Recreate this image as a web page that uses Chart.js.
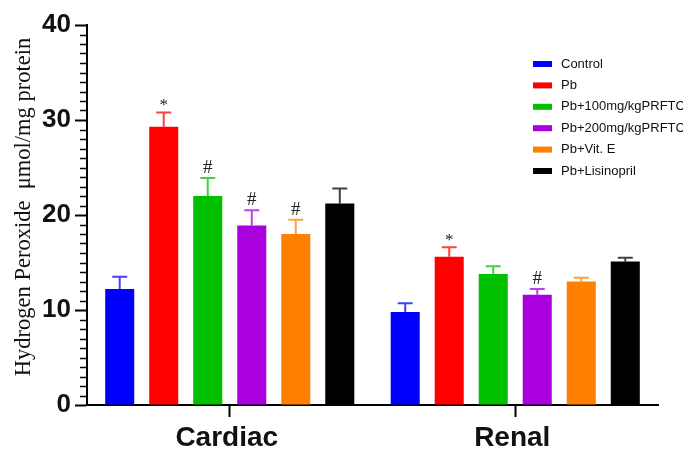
<!DOCTYPE html>
<html>
<head>
<meta charset="utf-8">
<script src="https://cdn.jsdelivr.net/npm/chart.js@4.4.1/dist/chart.umd.min.js"></script>
<style>
  html, body { margin: 0; padding: 0; background: #fff; }
  #wrap { width: 683px; height: 450px; }
</style>
</head>
<body>
<div id="wrap"><canvas id="h2o2"></canvas></div>
<script>
// tissues on the x axis
const tissues = ['Cardiac', 'Renal'];

// mean values (µmol/mg protein) and upper error (SEM) per group
const control = [12.2, 9.8];
const controlErr = [1.3, 0.9];
const pb = [29.3, 15.6];
const pbErr = [1.5, 1.0];
const prftc100 = [22.0, 13.8];
const prftc100Err = [1.9, 0.8];
const prftc200 = [18.9, 11.6];
const prftc200Err = [1.6, 0.6];
const vitE = [18.0, 13.0];
const vitEErr = [1.5, 0.4];
const lisinopril = [21.2, 15.1];
const lisinoprilErr = [1.6, 0.4];

// significance marks above the bars
const pbMarks = ['*', '*'];
const prftc100Marks = ['#', ''];
const prftc200Marks = ['#', '#'];
const vitEMarks = ['#', ''];

const yTicks = [0, 10, 20, 30, 40];

function ds(label, data, err, marks, color) {
    return {
        label: label,
        data: data,
        err: err,
        marks: marks || [],
        backgroundColor: color,
        borderColor: color,
        borderWidth: 0,
        categoryPercentage: 0.925,
        barPercentage: 0.66
    };
}

// error bars, star/hash marks, minor ticks, custom legend and y title
const extras = {
    id: 'extras',
    afterDatasetsDraw(chart) {
        const ctx = chart.ctx;
        const y = chart.scales.y;
        ctx.save();
        chart.data.datasets.forEach((d, i) => {
            const meta = chart.getDatasetMeta(i);
            meta.data.forEach((bar, j) => {
                const top = y.getPixelForValue(d.data[j] + d.err[j]);
                ctx.strokeStyle = d.borderColor;
                ctx.globalAlpha = 0.75;
                ctx.lineWidth = 2;
                ctx.beginPath();
                ctx.moveTo(bar.x, bar.y);
                ctx.lineTo(bar.x, top);
                ctx.moveTo(bar.x - 7.5, top);
                ctx.lineTo(bar.x + 7.5, top);
                ctx.stroke();
                ctx.globalAlpha = 1;
                const m = d.marks[j];
                if (m) {
                    ctx.fillStyle = '#222';
                    ctx.font = (m === '#' ? '19px' : '17px') + ' "Liberation Serif", serif';
                    ctx.textAlign = 'center';
                    ctx.textBaseline = 'alphabetic';
                    ctx.fillText(m, bar.x, top - (m === '#' ? 5 : 2));
                }
            });
        });
        ctx.restore();
    },
    afterDraw(chart) {
        const ctx = chart.ctx;
        const y = chart.scales.y;
        const area = chart.chartArea;
        ctx.save();
        // minor ticks every 1 unit
        ctx.strokeStyle = '#000';
        ctx.lineWidth = 1.5;
        ctx.beginPath();
        for (let v = 1; v < 40; v++) {
            if (v % 10 === 0) continue;
            const py = Math.round(y.getPixelForValue(v)) + 0.5;
            ctx.moveTo(area.left - 7, py);
            ctx.lineTo(area.left, py);
        }
        ctx.stroke();

        // legend
        ctx.font = '13px "Liberation Sans", Arial, sans-serif';
        ctx.textBaseline = 'middle';
        ctx.textAlign = 'left';
        chart.data.datasets.forEach((d, i) => {
            const ly = 64 + i * 21.4;
            ctx.fillStyle = d.backgroundColor;
            ctx.fillRect(533, ly - 3, 19, 6);
            ctx.fillStyle = '#111';
            ctx.fillText(d.label, 561, ly);
        });

        // y axis title
        ctx.translate(24, 207);
        ctx.rotate(-Math.PI / 2);
        ctx.font = '22.5px "Liberation Serif", "Times New Roman", serif';
        ctx.textAlign = 'center';
        ctx.textBaseline = 'middle';
        ctx.fillStyle = '#111';
        ctx.fillText('Hydrogen Peroxide  \u03bcmol/mg protein', 0, 0);
        ctx.restore();
    }
};

const config = {
    type: 'bar',
    data: {
        labels: tissues,
        datasets: [
            ds('Control', control, controlErr, null, '#0000ff'),
            ds('Pb', pb, pbErr, pbMarks, '#ff0000'),
            ds('Pb+100mg/kgPRFTC', prftc100, prftc100Err, prftc100Marks, '#00c000'),
            ds('Pb+200mg/kgPRFTC', prftc200, prftc200Err, prftc200Marks, '#aa00dd'),
            ds('Pb+Vit. E', vitE, vitEErr, vitEMarks, '#ff8000'),
            ds('Pb+Lisinopril', lisinopril, lisinoprilErr, null, '#000000')
        ]
    },
    plugins: [extras],
    options: {
        responsive: true,
        maintainAspectRatio: false,
        animation: false,
        layout: {
            autoPadding: false,
            padding: { top: 25, right: 25, left: 0, bottom: 0 }
        },
        plugins: {
            legend: { display: false },
            tooltip: { enabled: false }
        },
        scales: {
            x: {
                offset: true,
                afterFit: s => { s.height = 45; },
                border: { display: true, color: '#000', width: 2 },
                grid: {
                    offset: false,
                    drawOnChartArea: false,
                    drawTicks: true,
                    tickLength: 12,
                    tickWidth: 2,
                    tickColor: '#000'
                },
                ticks: {
                    color: '#111',
                    padding: 4,
                    labelOffset: -3,
                    font: { family: '"Liberation Sans", Arial, sans-serif', size: 28, weight: 'bold' }
                }
            },
            y: {
                min: 0,
                max: 40,
                afterFit: s => { s.width = 87; },
                afterBuildTicks: s => { s.ticks = yTicks.map(v => ({ value: v })); },
                border: { display: true, color: '#000', width: 2 },
                grid: {
                    drawOnChartArea: false,
                    tickLength: 12,
                    tickWidth: 2,
                    tickColor: '#000'
                },
                ticks: {
                    color: '#111',
                    padding: 4,
                    font: { family: '"Liberation Sans", Arial, sans-serif', size: 26, weight: 'bold' }
                }
            }
        }
    }
};

var ctx = document.getElementById('h2o2');
var chart = new Chart(ctx, config);
</script>
</body>
</html>
